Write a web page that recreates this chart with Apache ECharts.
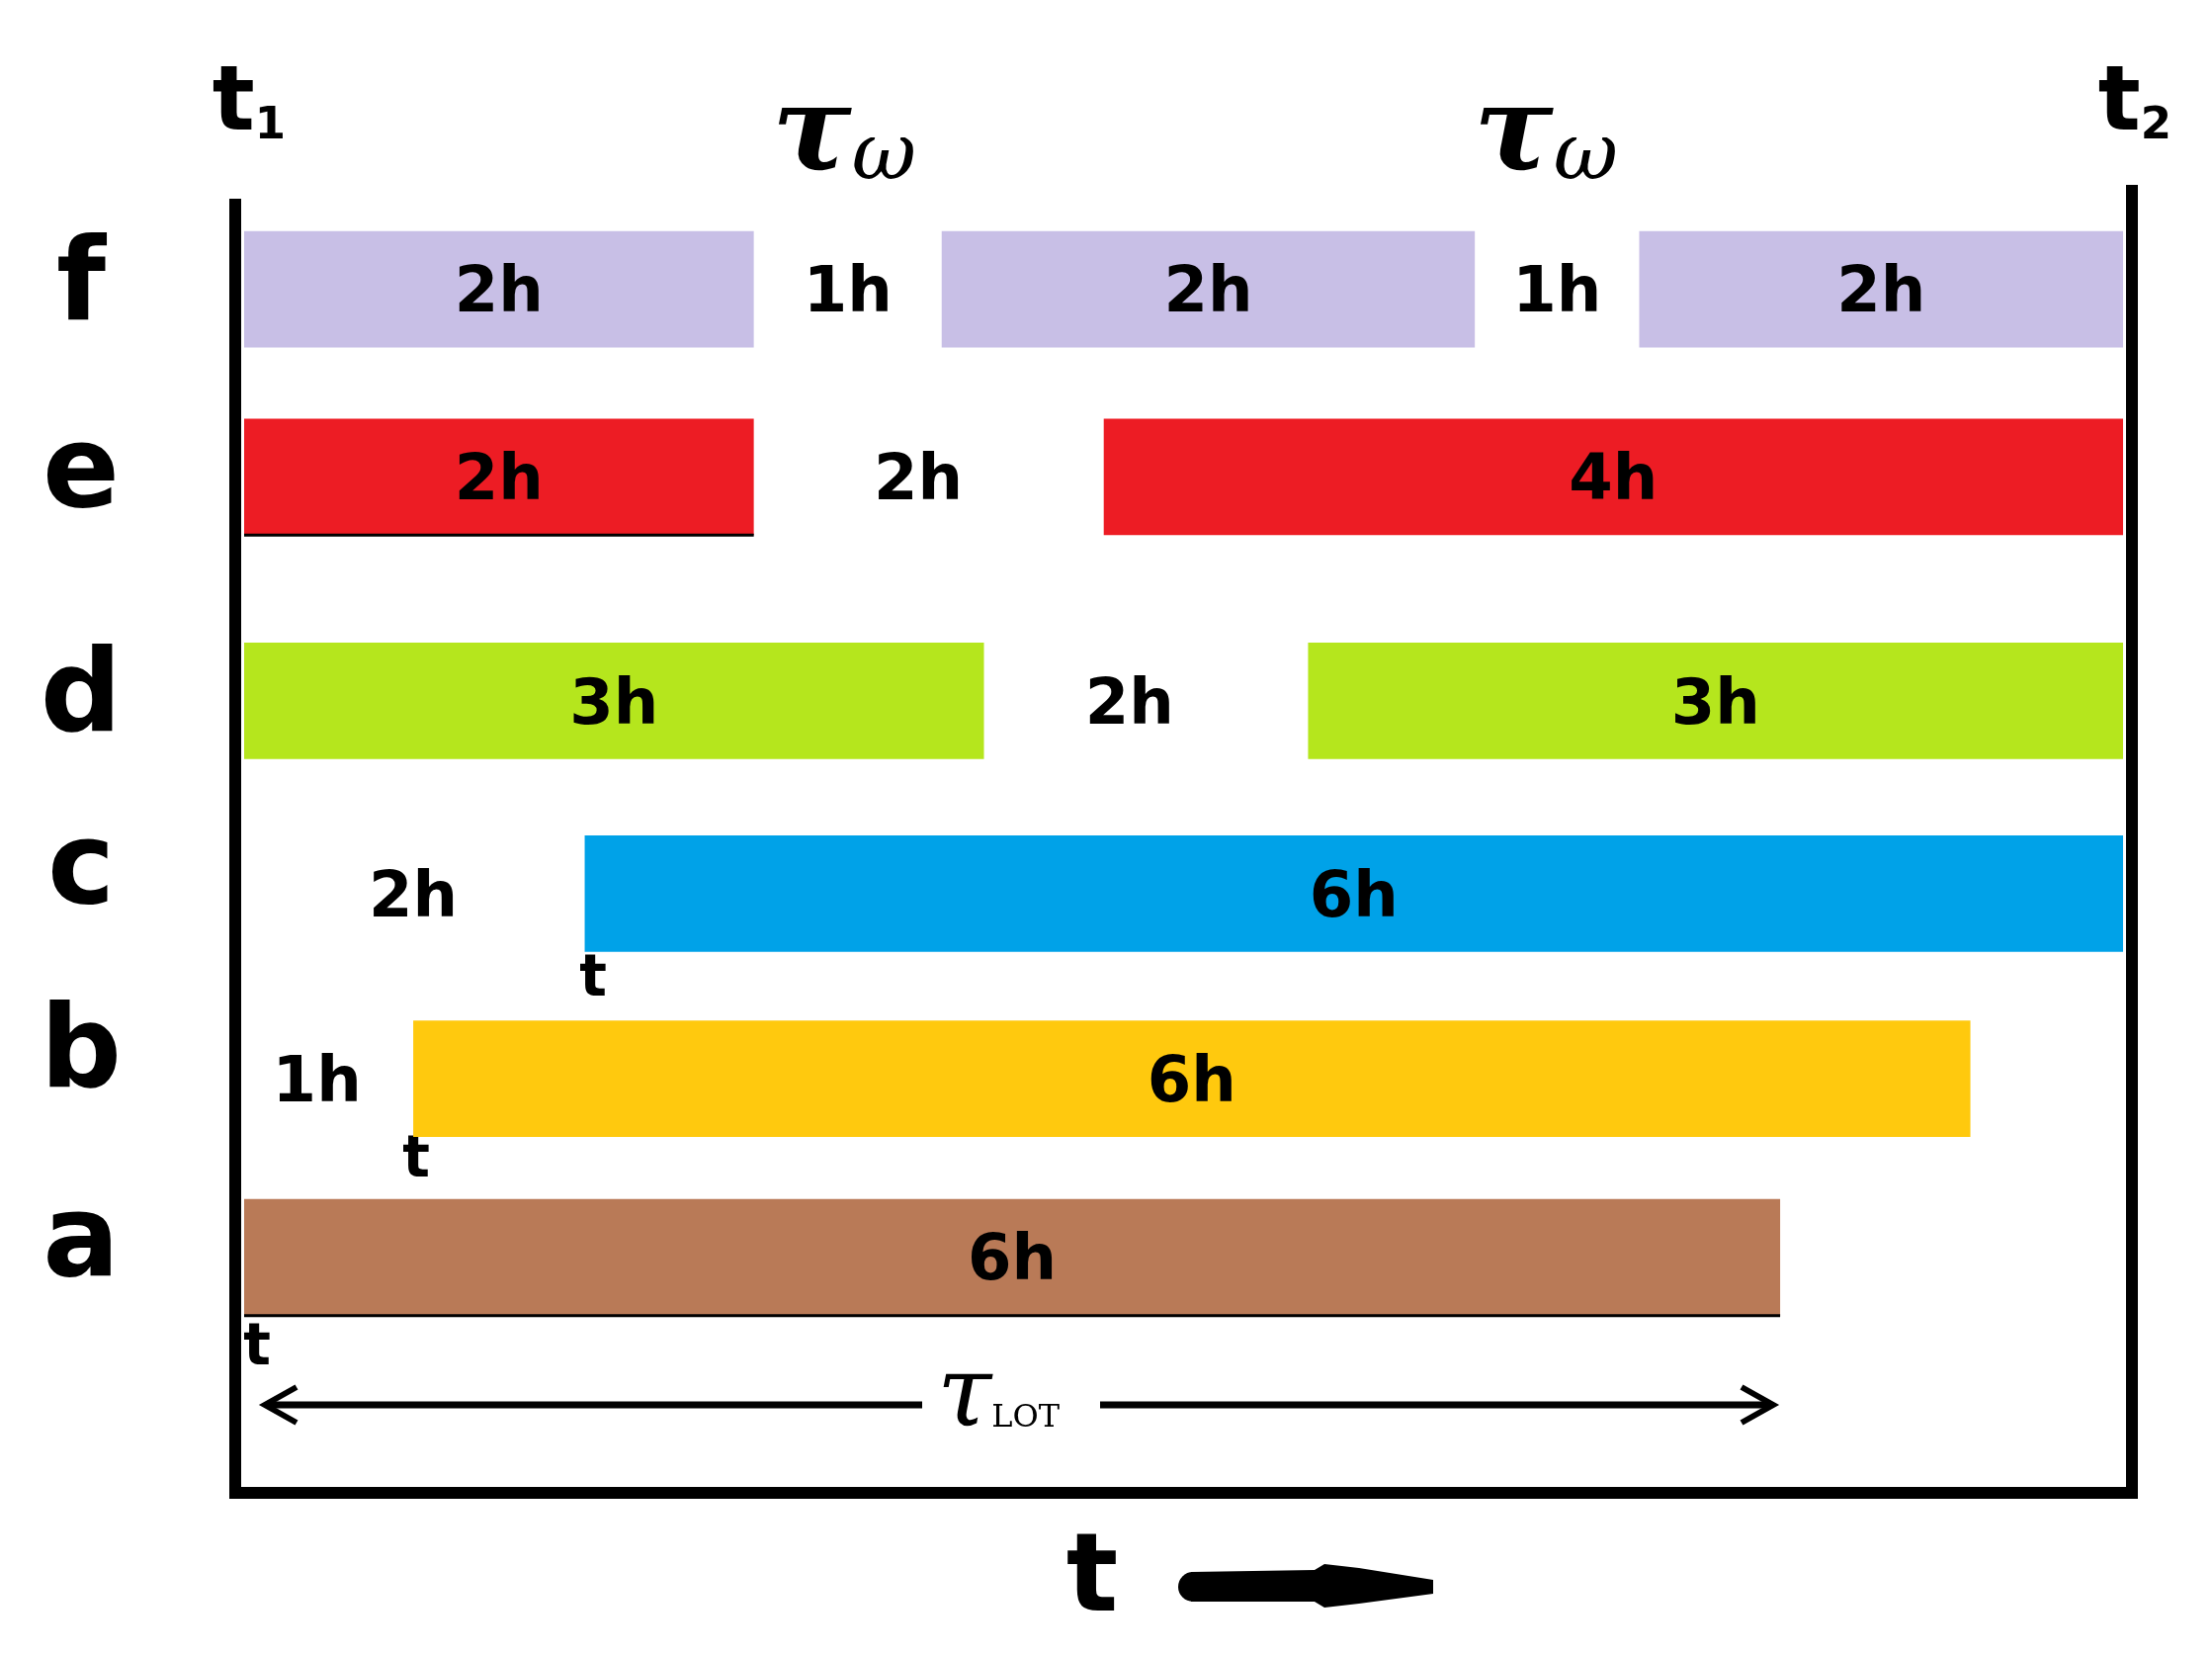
<!DOCTYPE html>
<html><head><meta charset="utf-8">
<script src="https://cdn.jsdelivr.net/npm/echarts@6/dist/echarts.min.js"></script>
<style>html,body{margin:0;background:#fff}#c{width:2238px;height:1675px}</style>
</head><body><div id="c"></div>
<script>
var rows = ['f','e','d','c','b','a'];
var rowPos = [0.70, 2.15, 3.88, 5.37, 6.80, 8.18];
var rowColors = ['#C8BFE6','#ED1C24','#B5E61D','#00A2E8','#FFC90E','#B97A57'];
// segments: [rowIndex, start, end, label]
var segments = [
  [0,0,2.17,'2h'],[0,2.97,5.24,'2h'],[0,5.94,8,'2h'],
  [1,0,2.17,'2h'],[1,3.66,8,'4h'],
  [2,0,3.15,'3h'],[2,4.53,8,'3h'],
  [3,1.45,8,'6h'],
  [4,0.72,7.35,'6h'],
  [5,0,6.54,'6h']
];
// gap labels: [rowIndex, x, label]
var gapLabels = [[0,2.57,'1h'],[0,5.59,'1h'],[1,2.87,'2h'],[2,3.77,'2h'],[3,0.72,'2h'],[4,0.31,'1h']];
var bottomBorderRows = [1,5];

var chart = echarts.init(document.getElementById('c'));
var font = 'DejaVu Sans';
chart.setOption({
  animation:false,
  grid:{left:247,right:90,top:201,bottom:165},
  xAxis:{type:'value',min:0,max:8,show:false},
  yAxis:{type:'value',min:0,max:10,inverse:true,show:false},
  series:[{
    type:'custom',
    data:segments,
    renderItem:function(p,api){
      var r=api.value(0), y=rowPos[r];
      var a=api.coord([api.value(1),y-0.45]), b=api.coord([api.value(2),y+0.45]);
      var children=[{type:'rect',shape:{x:a[0],y:a[1],width:b[0]-a[0],height:b[1]-a[1]},style:{fill:rowColors[r]}}];
      if(bottomBorderRows.indexOf(r)>=0 && api.value(1)===0){
        children.push({type:'line',shape:{x1:a[0],y1:b[1],x2:b[0],y2:b[1]},style:{stroke:'#000',lineWidth:3}});
      }
      children.push({type:'text',style:{text:segments[p.dataIndex][3],x:(a[0]+b[0])/2,y:(a[1]+b[1])/2+6,align:'center',verticalAlign:'middle',font:'bold 64px "DejaVu Sans"',fill:'#000'}});
      return {type:'group',children:children};
    }
  },{
    type:'custom',
    data:gapLabels,
    renderItem:function(p,api){
      var c=api.coord([api.value(1),rowPos[api.value(0)]]);
      return {type:'text',style:{text:gapLabels[p.dataIndex][2],x:c[0],y:c[1]+6,align:'center',verticalAlign:'middle',font:'bold 64px "DejaVu Sans"',fill:'#000'}};
    }
  }],
  graphic:[
    {type:'polyline',shape:{points:[[238,201],[238,1510],[2157,1510],[2157,187]]},style:{stroke:'#000',lineWidth:12,fill:null}},
  ].concat(rows.map(function(r,i){
    var ys=[293,482,709,883,1069,1260];
    return {type:'text',style:{text:r,x:82,y:ys[i],align:'center',verticalAlign:'middle',font:'bold 115px "DejaVu Sans"',fill:'#000'}};
  })).concat([
    {type:'text',style:{text:'{a|t}{s|1}',x:252,y:108,align:'center',verticalAlign:'middle',rich:{a:{font:'bold 90px "DejaVu Sans"'},s:{font:'bold 45px "DejaVu Sans"',padding:[40,0,0,0]}}}},
    {type:'text',style:{text:'{a|t}{s|2}',x:2160,y:108,align:'center',verticalAlign:'middle',rich:{a:{font:'bold 90px "DejaVu Sans"'},s:{font:'bold 45px "DejaVu Sans"',padding:[40,0,0,0]}}}},
    {type:'text',style:{text:'{a|τ}{s|ω}',x:854,y:140,align:'center',verticalAlign:'middle',rich:{a:{font:'italic bold 120px "DejaVu Serif"'},s:{font:'italic 80px "DejaVu Serif"',padding:[40,0,0,0]}}}},
    {type:'text',style:{text:'{a|τ}{s|ω}',x:1564,y:140,align:'center',verticalAlign:'middle',rich:{a:{font:'italic bold 120px "DejaVu Serif"'},s:{font:'italic 80px "DejaVu Serif"',padding:[40,0,0,0]}}}},
    {type:'text',style:{text:'t',x:600,y:992,align:'center',verticalAlign:'middle',font:'bold 58px "DejaVu Sans"'}},
    {type:'text',style:{text:'t',x:421,y:1175,align:'center',verticalAlign:'middle',font:'bold 58px "DejaVu Sans"'}},
    {type:'text',style:{text:'t',x:260,y:1365,align:'center',verticalAlign:'middle',font:'bold 58px "DejaVu Sans"'}},
    {type:'line',shape:{x1:270,y1:1421,x2:1790,y2:1421},style:{stroke:'#000',lineWidth:7}},
    {type:'polyline',shape:{points:[[300,1403],[268,1421],[300,1439]]},style:{stroke:'#000',lineWidth:6,fill:null}},
    {type:'polyline',shape:{points:[[1762,1403],[1794,1421],[1762,1439]]},style:{stroke:'#000',lineWidth:6,fill:null}},
    {type:'rect',shape:{x:933,y:1380,width:180,height:80},style:{fill:'#fff'}},
    {type:'text',style:{text:'{a|τ}{s|LOT}',x:1010,y:1415,align:'center',verticalAlign:'middle',rich:{a:{font:'italic 100px "DejaVu Serif"'},s:{font:'32px "DejaVu Serif"',padding:[40,0,0,0]}}}},
    {type:'text',style:{text:'t',x:1105,y:1600,align:'center',verticalAlign:'middle',font:'bold 110px "DejaVu Sans"'}},
    {type:'polygon',shape:{points:[[1205,1590],[1330,1588],[1340,1582],[1375,1586],[1450,1598],[1450,1612],[1375,1622],[1340,1626],[1330,1620],[1205,1620]]},style:{fill:'#000'}},
    {type:'circle',shape:{cx:1207,cy:1605,r:15},style:{fill:'#000'}}
  ])
});
</script></body></html>
